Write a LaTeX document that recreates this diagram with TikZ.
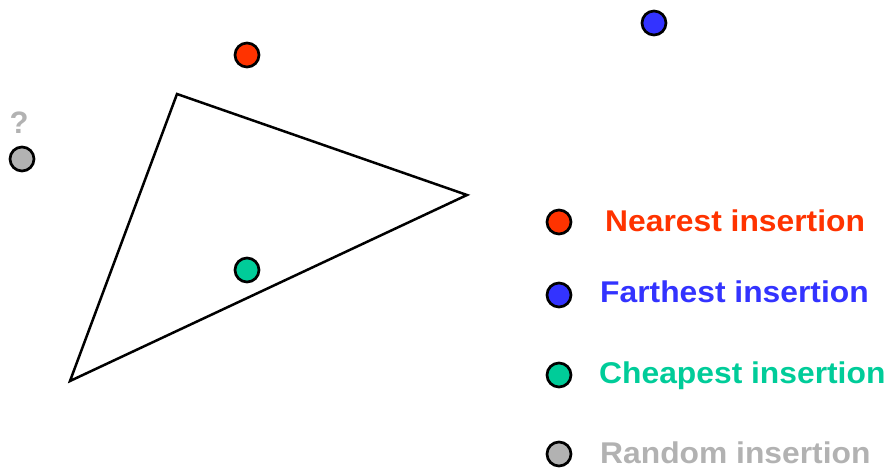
\documentclass[tikz,border=0pt]{standalone}
\usepackage{fontspec}
\setmainfont{Liberation Sans}
\newfontfamily\legendfont{Liberation Sans}[FakeStretch=1.06]
\definecolor{nearred}{HTML}{FF3300}
\definecolor{farblue}{HTML}{3333FF}
\definecolor{cheapgreen}{HTML}{00CC99}
\definecolor{randgray}{HTML}{B2B2B2}
\begin{document}
\begin{tikzpicture}[x=1pt,y=-1pt,
  city/.style={circle,draw=black,line width=2.7pt,minimum size=24pt,inner sep=0pt},
  legendtext/.style={anchor=base west,inner sep=0pt,font=\legendfont\fontsize{30}{36}\selectfont\bfseries}]
\useasboundingbox (0,0) rectangle (891,468);
% current tour
\coordinate (t1) at (177,94);
\coordinate (t2) at (467,195);
\coordinate (t3) at (70,381);
\draw[line width=2.5pt,line join=miter] (t1) -- (t2) -- (t3) -- cycle;
% candidate cities
\node[city,fill=nearred] (cn) at (247,55) {};
\node[city,fill=farblue] (cf) at (654,23) {};
\node[city,fill=randgray] (cr) at (22,159) {};
\node[city,fill=cheapgreen] (cc) at (247,270) {};
\node[inner sep=0pt,anchor=base,text=randgray,font=\fontsize{31}{36}\selectfont\bfseries] (q) at (19,134) {?};
% legend
\node[city,fill=nearred] (ln) at (559,222) {};
\node[city,fill=farblue] (lf) at (559,295) {};
\node[city,fill=cheapgreen] (lc) at (559,375) {};
\node[city,fill=randgray] (lr) at (559,454) {};
\node[legendtext,text=nearred] (tn) at (605,231) {Nearest insertion};
\node[legendtext,text=farblue] (tf) at (600,302) {Farthest insertion};
\node[legendtext,text=cheapgreen] (tc) at (599,383) {Cheapest insertion};
\node[legendtext,text=randgray] (tr) at (600,463) {Random insertion};
\end{tikzpicture}
\end{document}
